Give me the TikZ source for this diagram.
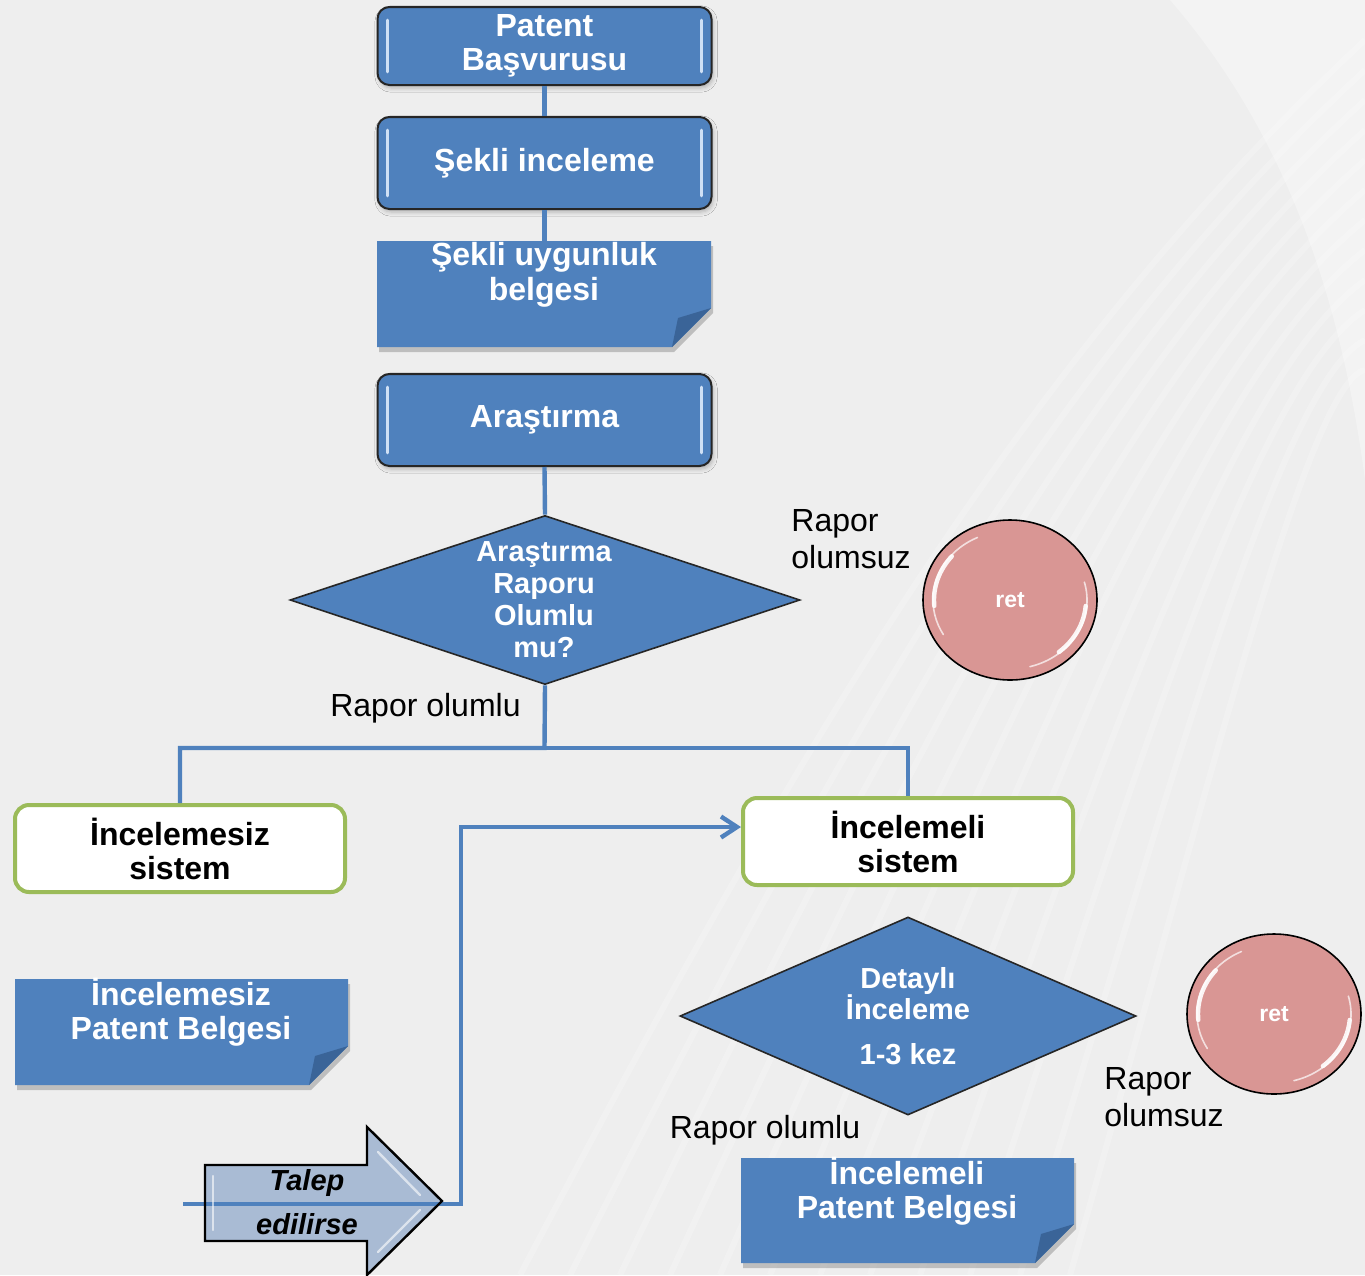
\documentclass[tikz,border=0pt]{standalone}
\usepackage{fontspec}
\setmainfont{Liberation Sans}
\usetikzlibrary{shapes.geometric,arrows.meta,shadows.blur}
\definecolor{pblue}{HTML}{4F81BD}
\definecolor{pdark}{HTML}{3A6498}
\definecolor{sgreen}{HTML}{9BBB59}
\definecolor{rpink}{HTML}{D99694}
\definecolor{abl}{HTML}{A9BBD4}
\definecolor{bgc}{HTML}{EEEEEE}
\definecolor{hlc}{HTML}{CFE0F5}
\newcommand\docshape[4]{%
  \fill[black,opacity=0.2] (#1+2,#2+5) -- (#3+2,#2+5) -- (#3+2,#4-39+5) -- (#3-39+2,#4+5) -- (#1+2,#4+5) -- cycle;
  \fill[pblue] (#1,#2) -- (#3,#2) -- (#3,#4-39) -- (#3-39,#4) -- (#1,#4) -- cycle;
  \fill[pdark] (#3,#4-39) -- (#3-33,#4-29) -- (#3-39,#4) -- cycle;
}
\begin{document}
\begin{tikzpicture}[x=0.5pt,y=-0.5pt,
  hl/.style={draw=hlc,line width=1.4pt,line cap=round},
  procbox/.style={draw=black!85,line width=1pt,fill=pblue,rounded corners=6pt,
    minimum width=167pt,text=white,align=center,inner sep=0pt,
    font=\bfseries\fontsize{16}{17}\selectfont,
    blur shadow={shadow xshift=0.8pt,shadow yshift=-1.5pt,shadow opacity=25,shadow blur steps=4},
    path picture={
      \draw[hl] ([xshift=5pt,yshift=-6.5pt]path picture bounding box.north west) -- ([xshift=5pt,yshift=6.5pt]path picture bounding box.south west);
      \draw[hl] ([xshift=-5pt,yshift=-6.5pt]path picture bounding box.north east) -- ([xshift=-5pt,yshift=6.5pt]path picture bounding box.south east);}},
  sysbox/.style={draw=sgreen,line width=2pt,fill=white,rounded corners=7pt,
    minimum width=165pt,minimum height=43.5pt,align=center,inner sep=0pt,
    font=\bfseries\fontsize{16}{17}\selectfont},
  doctext/.style={text=white,align=center,inner sep=0pt,font=\bfseries\fontsize{16}{17}\selectfont},
  decbox/.style={diamond,draw=black!85,line width=0.8pt,fill=pblue,inner sep=0pt},
  dectext/.style={text=white,align=center,inner sep=0pt,font=\bfseries\fontsize{14.5}{16}\selectfont},
  rejbox/.style={ellipse,draw=black,line width=0.8pt,fill=rpink,minimum width=87pt,minimum height=80pt,
    inner sep=0pt,text=white,font=\bfseries\fontsize{11.5}{12}\selectfont,
    path picture={
      \draw[white,line width=0.8pt,opacity=0.7,line cap=round] ([shift={(115:38.5pt and 34.5pt)}]path picture bounding box.center) arc[start angle=115,end angle=210,x radius=38.5pt,y radius=34.5pt];
      \draw[white,line width=2.2pt,opacity=0.9,line cap=round] ([shift={(140:38pt and 34pt)}]path picture bounding box.center) arc[start angle=140,end angle=185,x radius=38pt,y radius=34pt];
      \draw[white,line width=0.8pt,opacity=0.7,line cap=round] ([shift={(15:38.5pt and 34.5pt)}]path picture bounding box.center) arc[start angle=15,end angle=-75,x radius=38.5pt,y radius=34.5pt];
      \draw[white,line width=2.2pt,opacity=0.9,line cap=round] ([shift={(-5:38pt and 34pt)}]path picture bounding box.center) arc[start angle=-5,end angle=-50,x radius=38pt,y radius=34pt];}},
  lbl/.style={inner sep=0pt,align=left,font=\fontsize{16}{18.5}\selectfont},
  conn/.style={draw=pblue,line width=2.2pt},
]
\useasboundingbox (0,0) rectangle (1365,1275);
\fill[bgc] (0,0) rectangle (1365,1275);
\foreach \i in {0,...,11}{
  \draw[white,opacity=0.22,line width=3pt] (520+\i*50,1275) .. controls (760+\i*40,820) and (1000+\i*28,380) .. (1365,40+\i*30);
}
\fill[white,opacity=0.3] (1170,0) .. controls (1300,150) and (1345,330) .. (1365,480) -- (1365,0) -- cycle;

% process boxes
\node[procbox,minimum height=39pt] (pb) at (544.5,46) {Patent\\Başvurusu};
\node[procbox,minimum height=46pt] (si) at (544.5,163) {Şekli inceleme};
\node[procbox,minimum height=46pt] (ar) at (544.5,420) {Araştırma};
\draw[conn] (pb.south) -- (si.north);
\coordinate (sgtop) at (544.5,241);
\draw[conn] (si.south) -- (sgtop);

% documents
\docshape{377}{241}{711}{347}
\node[doctext,font=\bfseries\fontsize{16}{17.5}\selectfont] (sub) at (544,275) {Şekli uygunluk\\belgesi};
\docshape{15}{979}{348}{1085}
\node[doctext] (ipb) at (181,1012) {İncelemesiz\\Patent Belgesi};
\docshape{741}{1158}{1074}{1263}
\node[doctext] (lpb) at (907,1191) {İncelemeli\\Patent Belgesi};

% first decision
\node[decbox,minimum width=255pt,minimum height=84.5pt] (d1) at (545,600) {};
\node[dectext] (d1t) at (544,600) {Araştırma\\Raporu\\Olumlu\\mu?};
\draw[conn] (ar.south) -- (d1.north);

\node[rejbox] (r1) at (1010,600) {ret};
\node[lbl,anchor=west] (ro1) at (791,539) {Rapor\\olumsuz};
\node[lbl] (rl1) at (425.5,708) {Rapor olumlu};

% systems
\node[sysbox] (s1) at (180,848.5) {İncelemesiz\\sistem};
\node[sysbox] (s2) at (908,841.5) {İncelemeli\\sistem};
\coordinate (br) at (544.5,748);
\draw[conn] (d1.south) -- (br) -| (s1.north);
\draw[conn] (br) -| (s2.north);

% second decision
\node[decbox,minimum width=228pt,minimum height=99pt] (d2) at (908,1016) {};
\node[dectext,font=\bfseries\fontsize{14.5}{15.5}\selectfont] (d2t) at (908,1016) {Detaylı\\İnceleme\\[7pt]1-3 kez};
\node[rejbox] (r2) at (1274,1014) {ret};
\node[lbl,anchor=west] (ro2) at (1104,1097) {Rapor\\olumsuz};
\node[lbl] (rl2) at (765,1130) {Rapor olumlu};

% request arrow
\coordinate (ls) at (183,1204);
\coordinate (lc) at (461,1204);
\coordinate (turn) at (461,827);
\fill[abl] (205,1165) -- (367,1165) -- (367,1127) -- (442,1201) -- (367,1275) -- (367,1241) -- (205,1241) -- cycle;
\draw[conn,-{Straight Barb[length=8pt,width=10.5pt]}] (ls) -- (lc) -- (turn) -- (turn -| s2.west);
\draw[black,line width=1.2pt,line join=miter]
  (205,1165) -- (367,1165) -- (367,1127) -- (442,1201) -- (367,1275) -- (367,1241) -- (205,1241) -- cycle;
\draw[white,opacity=0.6,line width=1.2pt,line cap=round] (213,1176) -- (213,1230);
\draw[white,opacity=0.6,line width=1.2pt,line cap=round] (378,1152) -- (420,1195);
\draw[white,opacity=0.6,line width=1.2pt,line cap=round] (378,1252) -- (420,1210);
\node[inner sep=0pt,align=center,font=\bfseries\itshape\fontsize{14.5}{22}\selectfont] (talep) at (307,1202) {Talep\\edilirse};
\end{tikzpicture}
\end{document}
